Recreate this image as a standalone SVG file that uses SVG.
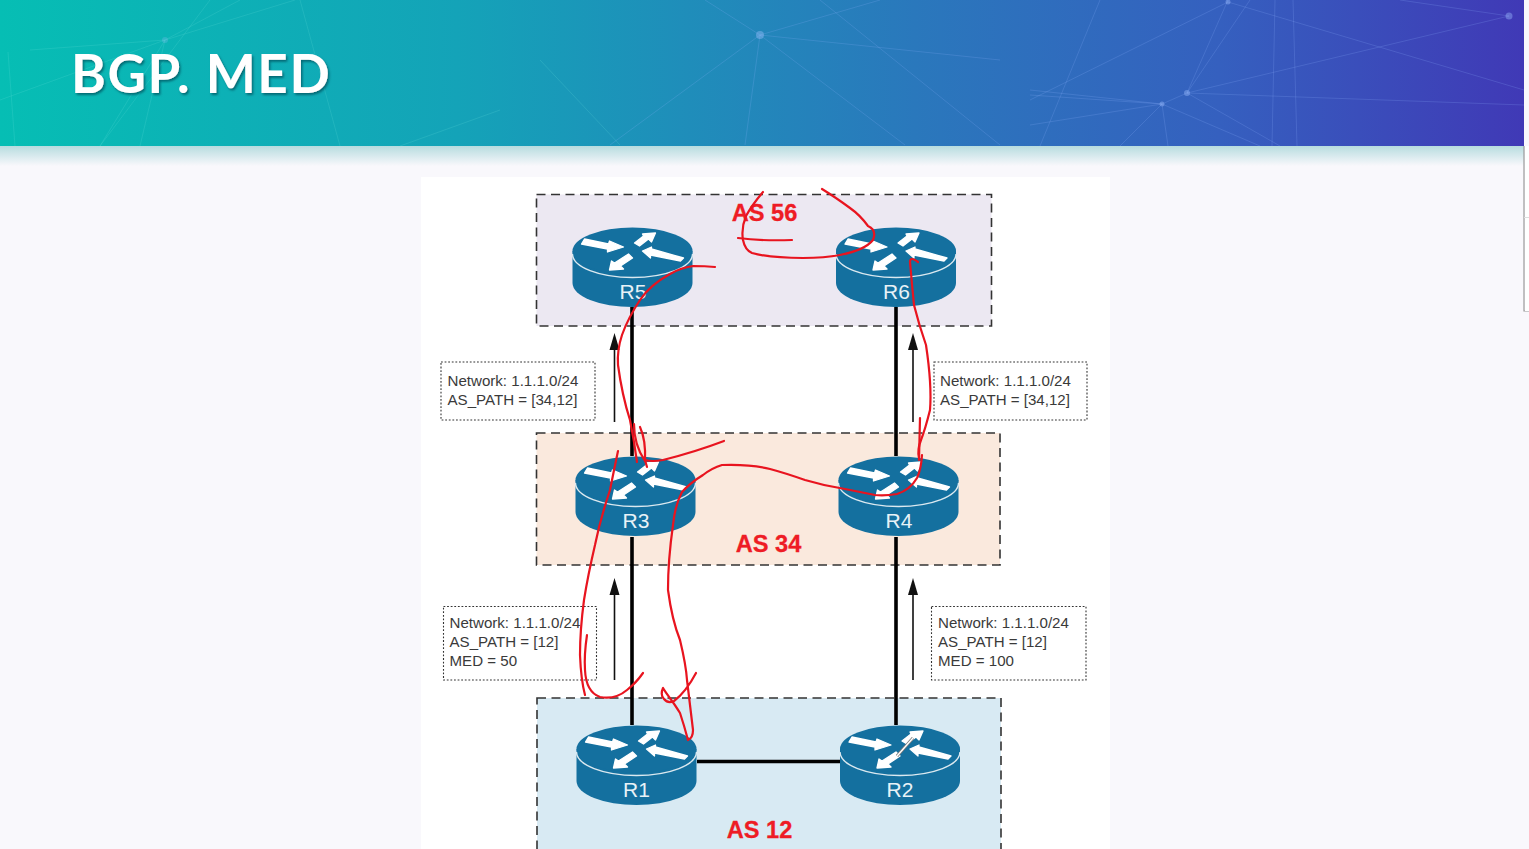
<svg xmlns="http://www.w3.org/2000/svg" width="1529" height="849" viewBox="0 0 1529 849">
<style>
.net{stroke:#8fb4ff;stroke-width:1;fill:none;opacity:.2}
.neta{stroke:#6fe6dc;stroke-width:1;fill:none;opacity:.18}
.dot{fill:#9fc0ff;opacity:.4}
.as{stroke:#333;stroke-width:1.6;stroke-dasharray:9 5.5}
.link{stroke:#000;stroke-width:3.6;fill:none}
.box{fill:#fff;stroke:#333;stroke-width:1.1;stroke-dasharray:1.8 1.8}
.lbl{font:15.1px "Liberation Sans",Arial,sans-serif;fill:#3a3a3a}
.asl{font:bold 23.6px "Liberation Sans",Arial,sans-serif;fill:#ee1c25;stroke:#ee1c25;stroke-width:.3;text-anchor:middle}
.rl{font:21px "Liberation Sans",Arial,sans-serif;fill:#e8f2f7;text-anchor:middle}
.ink{fill:none;stroke:#e8141f;stroke-width:2.2;stroke-linecap:round;stroke-linejoin:round}
</style>
<defs>
<linearGradient id="bar" x1="0" x2="1" y1="0" y2="0">
<stop offset="0" stop-color="#06beb4"/><stop offset=".3" stop-color="#14a3b8"/><stop offset=".6" stop-color="#2a78bc"/><stop offset=".8" stop-color="#3560bf"/><stop offset="1" stop-color="#4039b6"/>
</linearGradient>
<linearGradient id="fade" x1="0" x2="0" y1="0" y2="1">
<stop offset="0" stop-color="#b7dcdf"/><stop offset="1" stop-color="#f9f8fc"/>
</linearGradient>
<filter id="sh" x="-5%" y="-10%" width="110%" height="130%"><feDropShadow dx="1.5" dy="2" stdDeviation="1" flood-color="#064b5a" flood-opacity=".7"/></filter>
<symbol id="router" overflow="visible">
<path d="M-60 24 V56 A60 24 0 0 0 60 56 V24Z" fill="#14709f"/>
<ellipse cx="0" cy="24" rx="60" ry="23.5" fill="#14709f"/>
<path d="M-60 27 A60 23.5 0 0 0 60 27" fill="none" stroke="#dbe9f0" stroke-width="1.4"/>
<g fill="#fff" stroke="#fff" stroke-width="1.3" stroke-linejoin="round" transform="translate(0 24)">
<path d="M-51 -7 L-48 -12 L-24 -7 L-23 -10 L-9 -4 L-25 1 L-25 -2Z"/>
<path d="M23 -18 L19 -9 L16 -12 L7 -5 L2 -8 L11 -15 L10 -17Z"/>
<path d="M10 0 L19 -4 L19 -2 L51 7 L48 10 L18 4 L18 7Z"/>
<path d="M-23 19 L-21 10 L-18 12 L-4 3 L0 7 L-12 15 L-9 18Z"/>
</g>
</symbol>
</defs>

<rect width="1529" height="849" fill="#f9f8fc"/>
<rect x="0" y="146" width="1524" height="20" fill="url(#fade)"/>
<rect x="0" y="0" width="1524" height="146" fill="url(#bar)"/>
<g id="banner-network">
<path class="net" d="M760 35 L705 0 M760 35 L610 145 M760 35 L745 145 M760 35 L905 145 M760 35 L1000 60 M760 35 L880 0 M820 0 L1000 145 M1162 104 L1030 125 M1162 104 L1030 95 M1030 90 L1162 104 M1162 104 L1187 93 L1509 16 M1187 93 L1524 105 M1162 104 L1120 146 M1162 104 L1168 146 M1162 104 L1260 146 M1187 93 L1228 0 M1030 100 L1228 2 M1275 0 L1272 146 M1293 0 L1297 146 M1228 2 L1524 90 M1187 93 L1280 146 M1100 0 L1040 146 M1250 0 L1187 93 M1400 0 L1509 16"/>
<path class="neta" d="M165 40 L100 146 M165 40 L30 50 M165 40 L295 0 M300 0 L340 146 M400 146 L500 110 M540 60 L620 145 M165 40 L0 100 M165 40 L240 0 M165 40 L140 146 M8 52 L15 146 M210 0 L100 146"/>
<circle class="dot" cx="760" cy="35" r="4"/><circle class="dot" cx="1162" cy="104" r="2.5"/><circle class="dot" cx="1187" cy="93" r="3"/><circle class="dot" cx="1509" cy="16" r="3.500"/><circle class="dot" cx="1228" cy="2" r="2.500"/><circle class="dot" cx="165" cy="40" r="3" fill-opacity=".6"/>
</g>
<text x="71" y="93" font-family="Lato,'Open Sans',sans-serif" font-weight="700" font-size="53" letter-spacing="1.6" fill="#fff" filter="url(#sh)">BGP. MED</text>
<rect x="421" y="177" width="689" height="672" fill="#fff"/>
<path d="M1524 146 V311 H1529" fill="none" stroke="#9a9a9a" stroke-width="1.2"/>
<rect x="1525" y="146" width="4" height="165" fill="#fff"/>
<path d="M1524 217.500 H1529" stroke="#ddd" stroke-width="1"/>

<g id="as-areas">
<rect id="as56" class="as" x="536.500" y="194.500" width="455" height="131.500" fill="#ece8f2"/>
<rect id="as34" class="as" x="536.500" y="433" width="463.500" height="132" fill="#fae9dd"/>
<rect id="as12" class="as" x="537" y="698" width="464" height="170" fill="#d8eaf3"/>
</g>

<g id="connectors">
<path class="link" d="M632 307 V456 M896 307 V456 M632 537 V725 M896 537 V725 M697 761.500 H840"/>
<g fill="#111" stroke="none">
<path d="M614.500 333 L619.500 350 L609.500 350Z"/><path d="M913 333 L918 350 L908 350Z"/><path d="M614.500 578 L619.500 595 L609.500 595Z"/><path d="M913 578 L918 595 L908 595Z"/>
</g>
<path stroke="#111" stroke-width="1.6" d="M614.500 348 V422 M913 348 V422 M614.500 593 V680 M913 593 V680"/>
</g>

<g id="R5"><use href="#router" x="632.500" y="227"/><text class="rl" x="633" y="299">R5</text></g>
<g id="R6"><use href="#router" x="896" y="227"/><text class="rl" x="896.500" y="299">R6</text></g>
<g id="R3"><use href="#router" x="635.500" y="456"/><text class="rl" x="636" y="528">R3</text></g>
<g id="R4"><use href="#router" x="898.500" y="456"/><text class="rl" x="899" y="528">R4</text></g>
<g id="R1"><use href="#router" x="636.500" y="725"/><text class="rl" x="636.500" y="797">R1</text></g>
<g id="R2"><use href="#router" x="900" y="725"/><text class="rl" x="900" y="797">R2</text></g>

<g id="label-r5"><rect class="box" x="441" y="362" width="154" height="58"/><text class="lbl" x="447.500" y="385.500">Network: 1.1.1.0/24</text><text class="lbl" x="447.500" y="404.500">AS_PATH = [34,12]</text></g>
<g id="label-r6"><rect class="box" x="934" y="362" width="153" height="58"/><text class="lbl" x="940" y="385.500">Network: 1.1.1.0/24</text><text class="lbl" x="940" y="404.500">AS_PATH = [34,12]</text></g>
<g id="label-r1"><rect class="box" x="443.500" y="606.500" width="153" height="73.500"/><text class="lbl" x="449.500" y="628">Network: 1.1.1.0/24</text><text class="lbl" x="449.500" y="647">AS_PATH = [12]</text><text class="lbl" x="449.500" y="666">MED = 50</text></g>
<g id="label-r2"><rect class="box" x="931.500" y="606.500" width="154.500" height="73.500"/><text class="lbl" x="938" y="628">Network: 1.1.1.0/24</text><text class="lbl" x="938" y="647">AS_PATH = [12]</text><text class="lbl" x="938" y="666">MED = 100</text></g>

<text class="asl" x="764.500" y="220.500">AS 56</text>
<text class="asl" x="768.500" y="552">AS 34</text>
<text class="asl" x="759.500" y="838">AS 12</text>

<g id="annotations">
<path class="ink" d="M763 192 Q752 205 746 216 Q741 228 743 240 Q745 250 752 253 Q770 258 803 258 Q825 258 840 255 Q865 250 873 240 Q877 230 868 226 Q860 215 850 208 Q835 197 822 189"/>
<path class="ink" d="M738 238 Q760 241 792 240"/>
<path class="ink" d="M715 267 Q705 266 693 266 Q680 268 670 274 Q650 285 640 300 Q628 318 622 335 Q617 350 618 365 Q622 395 630 420 Q634 440 637 462"/>
<path class="ink" d="M634 424 Q634 445 645 461 Q646 440 640 427"/>
<path class="ink" d="M724 441 Q695 452 663 460 Q652 462 645 460 L647 467"/>
<path class="ink" d="M918 262 Q910 256 910 262 Q912 285 914 305 Q919 325 926 345 Q932 385 930 410 Q925 430 921 440 Q917 450 919 458"/>
<path class="ink" d="M920 418 L919 460"/>
<path class="ink" d="M922 455 Q921 470 917 478 Q910 490 897 494 Q885 496 875 495 Q860 492 845 489 Q825 486 805 480 Q785 473 770 469 Q750 464 722 465 Q712 468 703 475 Q690 483 682 492 Q675 505 673 525 Q668 560 668 590 Q672 620 680 640 Q686 665 687 680 Q690 705 693 730 Q693 738 688 740 Q684 725 680 713 Q675 705 672 701 Q664 690 663 688 Q660 695 664 699 Q668 704 674 701 Q686 692 696 673"/>
<path class="ink" d="M618 451 Q614 470 610 490 Q600 520 595 545 Q588 575 584 600 Q580 630 580 655 Q581 680 585 695"/>
<path class="ink" d="M587 635 Q584 655 585 670 Q586 692 600 697 Q615 700 627 690 Q636 683 643 673"/>
<path d="M897 756 L913 738" stroke="#777" stroke-width="3"/><path d="M897 756 L913 738" stroke="#fff" stroke-width="1.4"/>
</g>
</svg>
